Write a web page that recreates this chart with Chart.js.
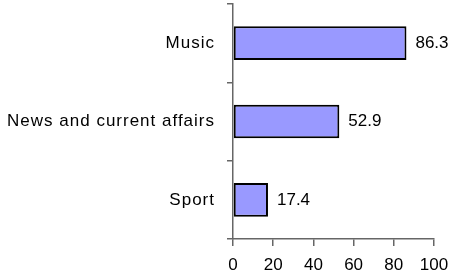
<!DOCTYPE html>
<html>
<head>
<meta charset="utf-8">
<script src="https://cdn.jsdelivr.net/npm/chart.js@4/dist/chart.umd.min.js"></script>
<style>
  body { margin: 0; background: #fff; }
  canvas { display: block; }
</style>
</head>
<body>
<canvas id="chart" width="449" height="275"></canvas>
<script>
const categories = ["Music", "News and current affairs", "Sport"];
const values = [86.3, 52.9, 17.4];
const xTicks = [0, 20, 40, 60, 80, 100];

const FONT = "Liberation Sans, Arial, sans-serif";
const AXIS = "#666";

// draw the value next to the end of each bar
const valueLabels = {
  id: "valueLabels",
  afterDatasetsDraw(chart) {
    const ctx = chart.ctx;
    const meta = chart.getDatasetMeta(0);
    ctx.save();
    ctx.font = "17px " + FONT;
    ctx.fillStyle = "#000";
    ctx.textAlign = "left";
    ctx.textBaseline = "middle";
    meta.data.forEach((bar, i) => {
      ctx.fillText(values[i].toFixed(1), bar.x + 9, bar.y);
    });
    ctx.restore();
  },
};

// category labels in the original are spaced out a little
const spacedLabels = {
  id: "spacedLabels",
  beforeDraw(chart) {
    const yScale = chart.scales.y;
    if (!yScale || yScale._spaced) return;
    const orig = yScale.drawLabels;
    yScale.drawLabels = function (area) {
      const c = this.ctx;
      c.save();
      c.letterSpacing = "1px";
      orig.call(this, area);
      c.restore();
    };
    yScale._spaced = true;
  },
};

const ctx = document.getElementById("chart").getContext("2d");
new Chart(ctx, {
  type: "bar",
  data: {
    labels: categories,
    datasets: [
      {
        data: values,
        backgroundColor: "#9999FF",
        borderColor: "#000",
        borderWidth: 2,
        borderSkipped: false,
        barPercentage: 0.43,
        categoryPercentage: 1,
      },
    ],
  },
  options: {
    indexAxis: "y",
    responsive: false,
    animation: false,
    layout: { padding: { top: 4, right: 15, left: 0, bottom: 0 } },
    plugins: {
      legend: { display: false },
      tooltip: { enabled: false },
    },
    scales: {
      x: {
        min: 0,
        max: 100,
        afterBuildTicks: (scale) => {
          scale.ticks = xTicks.map((v) => ({ value: v }));
        },
        afterFit: (scale) => {
          scale.height = 36;
          scale.paddingLeft = 0;
          scale.paddingRight = 0;
        },
        grid: {
          drawOnChartArea: false,
          color: AXIS,
          lineWidth: 1.5,
          tickLength: 7,
        },
        border: { color: AXIS, width: 1.5 },
        ticks: {
          color: "#000",
          padding: 9,
          maxRotation: 0,
          font: { family: FONT, size: 17 },
        },
      },
      y: {
        afterFit: (scale) => {
          scale.width = 233;
          scale.paddingTop = 0;
          scale.paddingBottom = 0;
        },
        grid: {
          drawOnChartArea: false,
          color: AXIS,
          lineWidth: 1.5,
          tickLength: 6,
          offset: true,
        },
        border: { color: AXIS, width: 1.5 },
        ticks: {
          color: "#000",
          padding: 12,
          font: { family: FONT, size: 17 },
        },
      },
    },
  },
  plugins: [valueLabels, spacedLabels],
});
</script>
</body>
</html>
